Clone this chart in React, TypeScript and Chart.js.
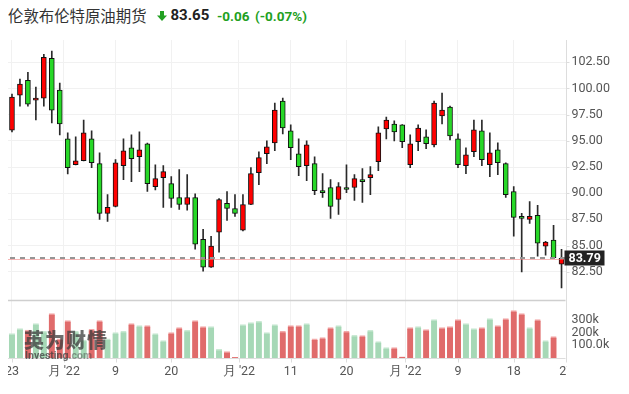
import React, { useEffect, useRef } from "react";
import { Chart, registerables } from "chart.js";

Chart.register(...registerables);

// ---- data ----
const opens = [
  96.01, 99.37, 100.79, 98.89, 99.08, 102.88, 99.84, 95.19, 92.72, 93.10,
  95.19, 92.82, 88.07, 88.73, 92.63, 94.34, 93.48, 94.72, 90.63, 91.49,
  90.92, 89.59, 88.92, 89.59, 85.60, 82.94, 86.27, 89.02, 88.54, 86.46,
  88.92, 91.96, 93.77, 94.81, 98.80, 95.95, 93.77, 92.63, 92.82, 90.25,
  90.54, 89.40, 90.54, 90.54, 91.30, 91.49, 93.01, 96.14, 96.61, 96.52,
  92.72, 94.91, 95.38, 94.62, 97.37, 98.23, 95.19, 92.63, 93.96, 95.95,
  92.72, 94.15, 92.82, 90.16, 87.78, 87.50, 87.88, 84.94, 85.51, 83.23,
];
const highs = [
  99.46, 100.89, 101.55, 100.13, 103.26, 103.58, 100.51, 95.76, 95.38, 96.99,
  95.95, 93.86, 89.87, 93.20, 95.19, 95.57, 95.85, 94.78, 92.72, 92.63,
  91.58, 92.25, 91.77, 89.94, 86.55, 85.89, 89.49, 90.16, 89.87, 89.87,
  92.44, 93.96, 95.00, 98.61, 99.08, 96.52, 95.19, 95.00, 93.48, 91.87,
  91.30, 91.01, 92.72, 91.77, 92.34, 92.53, 96.33, 97.28, 96.90, 96.55,
  95.57, 96.52, 96.04, 98.80, 99.56, 98.32, 95.66, 94.34, 96.99, 96.99,
  95.76, 94.81, 92.91, 90.63, 88.07, 89.21, 88.83, 85.41, 86.93, 84.65,
];
const lows = [
  95.85, 98.32, 98.32, 96.99, 98.32, 96.71, 95.57, 91.84, 92.69, 93.07,
  92.44, 87.50, 87.31, 88.70, 91.30, 91.11, 92.06, 90.16, 90.32, 88.64,
  88.64, 88.45, 88.39, 84.65, 82.56, 82.90, 84.37, 87.41, 87.78, 86.40,
  88.90, 90.82, 92.82, 94.05, 95.66, 93.20, 91.68, 91.20, 89.87, 89.59,
  87.60, 87.98, 90.06, 89.30, 89.11, 89.87, 92.15, 95.19, 95.00, 94.34,
  92.44, 94.05, 94.24, 94.43, 96.61, 95.09, 92.44, 91.87, 93.48, 92.63,
  91.58, 91.77, 89.59, 85.89, 82.47, 87.12, 83.99, 84.08, 83.80, 80.95,
];
const closes = [
  99.18, 100.41, 98.51, 99.08, 102.97, 97.94, 96.61, 92.44, 93.10, 95.76,
  92.91, 88.07, 88.64, 92.91, 94.05, 93.29, 94.15, 90.92, 91.39, 92.06,
  89.49, 88.92, 89.59, 85.13, 82.94, 84.94, 89.40, 88.54, 88.07, 88.92,
  91.87, 93.39, 94.43, 97.94, 96.23, 94.34, 92.53, 94.62, 90.25, 90.06,
  88.73, 90.63, 90.35, 91.39, 91.11, 91.77, 95.76, 96.99, 95.85, 94.91,
  94.72, 96.23, 94.72, 98.61, 97.94, 95.47, 92.72, 93.67, 96.04, 93.20,
  93.86, 92.91, 89.87, 87.69, 87.60, 87.78, 85.22, 85.32, 83.85, 83.79,
];
// volume in thousands (the last session has no bar yet)
const volumes = [
  192, 231, 220, 270, 210, 349, 150, 294, 210, 140,
  226, 294, 150, 200, 210, 270, 255, 255, 192, 137,
  200, 239, 218, 294, 247, 247, 68, 50, 5, 262,
  278, 289, 200, 262, 210, 255, 255, 270, 150, 160,
  239, 255, 210, 178, 176, 218, 129, 81, 81, 10,
  239, 247, 223, 302, 239, 247, 302, 270, 231, 239,
  310, 255, 310, 373, 349, 239, 302, 137, 168, null,
];

const xTickPos = [0, 6.5, 13, 20, 28.5, 35, 42, 49.4, 56, 63, 69.6];
const xTickLabels = ["23", "月 '22", "9", "20", "月 '22", "11", "20", "月 '22", "9", "18", "27"];
const priceTicks = [82.5, 85, 87.5, 90, 92.5, 95, 97.5, 100, 102.5];
const volTicks = [100, 200, 300];
const volTickLabels = ["100.0k", "200k", "300k"];

const PRICE_MIN = 74.26;
const PRICE_MAX = 104.63;
const PANE_SPLIT_PRICE = 79.8;
const VOL_MAX = 2500;

const UP = "#ff0000";
const DOWN = "#27d827";
const VOL_UP = "#a6d8b6";
const VOL_UP_TOP = "#c9e9d3";
const VOL_DOWN = "#e06b6b";
const VOL_DOWN_TOP = "#f2a9a9";
const TEXT = "#555555";
const FONT = "Roboto, Arial, sans-serif";

const overlayPlugin = {
  id: "overlay",
  beforeDatasetsDraw(chart: any) {
    const { ctx, chartArea, scales } = chart;
    const { left, right, top, bottom } = chartArea;
    const x = scales.x;
    const y = scales.y;
    const yv = scales.yv;
    ctx.save();
    // pane separator
    const sepY = Math.round(y.getPixelForValue(PANE_SPLIT_PRICE)) + 0.5;
    ctx.strokeStyle = "#cfcfcf";
    ctx.lineWidth = 1.5;
    ctx.beginPath();
    ctx.moveTo(left, sepY);
    ctx.lineTo(right, sepY);
    ctx.stroke();
    // volume baseline
    const baseY = Math.round(yv.getPixelForValue(0)) + 0.5;
    ctx.strokeStyle = "#dddddd";
    ctx.lineWidth = 1;
    ctx.beginPath();
    ctx.moveTo(left, baseY);
    ctx.lineTo(right, baseY);
    ctx.stroke();
    // right axis line
    const ax = Math.round(right) + 0.5;
    ctx.beginPath();
    ctx.moveTo(ax, top);
    ctx.lineTo(ax, bottom + 4);
    ctx.stroke();
    // x tick marks
    xTickPos.forEach((v) => {
      const px = Math.round(x.getPixelForValue(v)) + 0.5;
      ctx.beginPath();
      ctx.moveTo(px, baseY);
      ctx.lineTo(px, baseY + 4);
      ctx.stroke();
    });
    // x labels, clipped to plot width
    ctx.save();
    ctx.beginPath();
    ctx.rect(left, bottom, right - left + 1, 40);
    ctx.clip();
    ctx.fillStyle = TEXT;
    ctx.font = `12.5px ${FONT}`;
    ctx.textAlign = "center";
    ctx.textBaseline = "middle";
    xTickPos.forEach((v, i) => {
      ctx.fillText(xTickLabels[i], x.getPixelForValue(v), bottom + 14);
    });
    ctx.restore();
    // price labels
    ctx.fillStyle = TEXT;
    ctx.font = `12.5px ${FONT}`;
    ctx.textAlign = "left";
    ctx.textBaseline = "middle";
    priceTicks.forEach((v) => {
      const py = y.getPixelForValue(v);
      ctx.strokeStyle = "#dddddd";
      ctx.beginPath();
      ctx.moveTo(ax, Math.round(py) + 0.5);
      ctx.lineTo(ax + 3, Math.round(py) + 0.5);
      ctx.stroke();
      ctx.fillText(v.toFixed(2), right + 6, py);
    });
    volTicks.forEach((v, i) => {
      const py = yv.getPixelForValue(v);
      ctx.fillText(volTickLabels[i], right + 6, py);
    });
    ctx.restore();
  },
  afterDatasetsDraw(chart: any) {
    const { ctx, chartArea, scales } = chart;
    const { left, right } = chartArea;
    const y = scales.y;
    const last = closes[closes.length - 1];
    const py = Math.round(y.getPixelForValue(last));
    ctx.save();
    ctx.strokeStyle = "rgba(240,120,120,0.55)";
    ctx.lineWidth = 1;
    ctx.beginPath();
    ctx.moveTo(left, py + 1.5);
    ctx.lineTo(right, py + 1.5);
    ctx.stroke();
    ctx.strokeStyle = "#959595";
    ctx.lineWidth = 2;
    ctx.setLineDash([5, 5]);
    ctx.beginPath();
    ctx.moveTo(left + 2, py);
    ctx.lineTo(right, py);
    ctx.stroke();
    ctx.setLineDash([]);
    // price box
    ctx.fillStyle = "#222222";
    ctx.fillRect(right - 1, py - 7.5, 40, 15);
    ctx.fillStyle = "#ffffff";
    ctx.font = `bold 12.5px ${FONT}`;
    ctx.textAlign = "left";
    ctx.textBaseline = "middle";
    ctx.fillText(last.toFixed(2), right + 3, py + 0.5);
    ctx.restore();
  },
};

export default function App() {
  const ref = useRef<HTMLCanvasElement | null>(null);

  useEffect(() => {
    if (!ref.current) return;
    const idx = closes.map((_, i) => i);
    const volColors = idx.map((i) => {
      const prev = i === 0 ? opens[0] : closes[i - 1];
      return closes[i] >= prev ? VOL_UP : VOL_DOWN;
    });
    const volTopColors = idx.map((i) => {
      const prev = i === 0 ? opens[0] : closes[i - 1];
      return closes[i] >= prev ? VOL_UP_TOP : VOL_DOWN_TOP;
    });
    const chart = new Chart(ref.current, {
      type: "bar",
      data: {
        datasets: [
          {
            label: "body",
            data: idx.map((i) => ({ x: i, y: [opens[i], closes[i]] })) as any,
            backgroundColor: idx.map((i) => (closes[i] >= opens[i] ? UP : DOWN)),
            borderColor: "#111111",
            borderWidth: 1,
            borderSkipped: false,
            barThickness: 5,
            grouped: false,
            yAxisID: "y",
            order: 0,
          },
          {
            label: "wick",
            data: idx.map((i) => ({ x: i, y: [lows[i], highs[i]] })) as any,
            backgroundColor: "#2a2a2a",
            barThickness: 1,
            grouped: false,
            yAxisID: "y",
            order: 1,
          },
          {
            label: "volume",
            data: idx.map((i) => ({ x: i, y: volumes[i] })) as any,
            backgroundColor: volColors,
            borderColor: volTopColors,
            borderWidth: { top: 1.5, left: 0, right: 0, bottom: 0 } as any,
            borderSkipped: "bottom",
            barThickness: 6,
            grouped: false,
            yAxisID: "yv",
            order: 2,
          },
        ] as any,
      },
      options: {
        responsive: false,
        animation: false,
        devicePixelRatio: 1,
        layout: { padding: { left: 0, right: 55.5, top: 0, bottom: 27 } },
        plugins: { legend: { display: false }, tooltip: { enabled: false } },
        scales: {
          x: {
            type: "linear",
            offset: false,
            min: -0.5,
            max: 69.5,
            grid: { color: "#f1f1f1", drawTicks: false, offset: false },
            border: { display: false },
            ticks: { display: false },
            afterBuildTicks: (s: any) => {
              s.ticks = xTickPos.map((v) => ({ value: v }));
            },
            afterFit: (s: any) => {
              s.height = 0;
            },
          },
          y: {
            type: "linear",
            position: "right",
            min: PRICE_MIN,
            max: PRICE_MAX,
            grid: { color: "#f1f1f1", drawTicks: false },
            border: { display: false },
            ticks: { display: false },
            afterBuildTicks: (s: any) => {
              s.ticks = priceTicks.map((v) => ({ value: v }));
            },
            afterFit: (s: any) => {
              s.width = 0;
            },
          },
          yv: {
            type: "linear",
            position: "right",
            min: 0,
            max: VOL_MAX,
            grid: { display: false },
            border: { display: false },
            ticks: { display: false },
            afterFit: (s: any) => {
              s.width = 0;
            },
          },
        } as any,
      },
      plugins: [overlayPlugin],
    });
    return () => chart.destroy();
  }, []);

  const green = "#22a022";
  return (
    <div style={{ position: "relative", width: 613, height: 376, fontFamily: FONT }}>
      <div
        style={{
          position: "absolute",
          left: 0,
          top: -1,
          fontFamily: "'Noto Sans CJK SC', sans-serif",
          fontSize: 15.4,
          lineHeight: "17px",
          color: "#333",
          whiteSpace: "nowrap",
        }}
      >
        伦敦布伦特原油期货
      </div>
      <svg
        style={{ position: "absolute", left: 149, top: 3 }}
        width={10}
        height={10}
        viewBox="0 0 10 10"
      >
        <rect x={3} y={0} width={4} height={5} fill={green} />
        <polygon points="0,4.5 10,4.5 5,10" fill={green} />
      </svg>
      <div
        style={{
          position: "absolute",
          left: 162.5,
          top: 0,
          fontSize: 15,
          lineHeight: "15px",
          fontWeight: 700,
          color: "#222",
          whiteSpace: "nowrap",
        }}
      >
        83.65
      </div>
      <div
        style={{
          position: "absolute",
          left: 209,
          top: 1.5,
          fontSize: 13.5,
          lineHeight: "13.5px",
          fontWeight: 700,
          color: green,
          whiteSpace: "nowrap",
        }}
      >
        -0.06
      </div>
      <div
        style={{
          position: "absolute",
          left: 247,
          top: 1.5,
          fontSize: 13.5,
          lineHeight: "13.5px",
          fontWeight: 700,
          color: green,
          whiteSpace: "nowrap",
        }}
      >
        (-0.07%)
      </div>
      <canvas
        ref={ref}
        width={613}
        height={345}
        style={{ position: "absolute", left: 0, top: 32, display: "block" }}
      />
      <div
        style={{
          position: "absolute",
          left: 16,
          top: 322,
          fontFamily: "'Noto Sans CJK SC', sans-serif",
          fontSize: 20,
          lineHeight: "20px",
          fontWeight: 900,
          letterSpacing: 1,
          color: "rgba(60,60,60,0.75)",
          whiteSpace: "nowrap",
          pointerEvents: "none",
        }}
      >
        英为财情
      </div>
      <div
        style={{
          position: "absolute",
          left: 17,
          top: 343,
          fontSize: 10.5,
          lineHeight: "10.5px",
          fontWeight: 700,
          color: "rgba(60,60,60,0.75)",
          whiteSpace: "nowrap",
          pointerEvents: "none",
        }}
      >
        Investing<span style={{ color: "rgba(60,60,60,0.45)" }}>.com</span>
      </div>
    </div>
  );
}
